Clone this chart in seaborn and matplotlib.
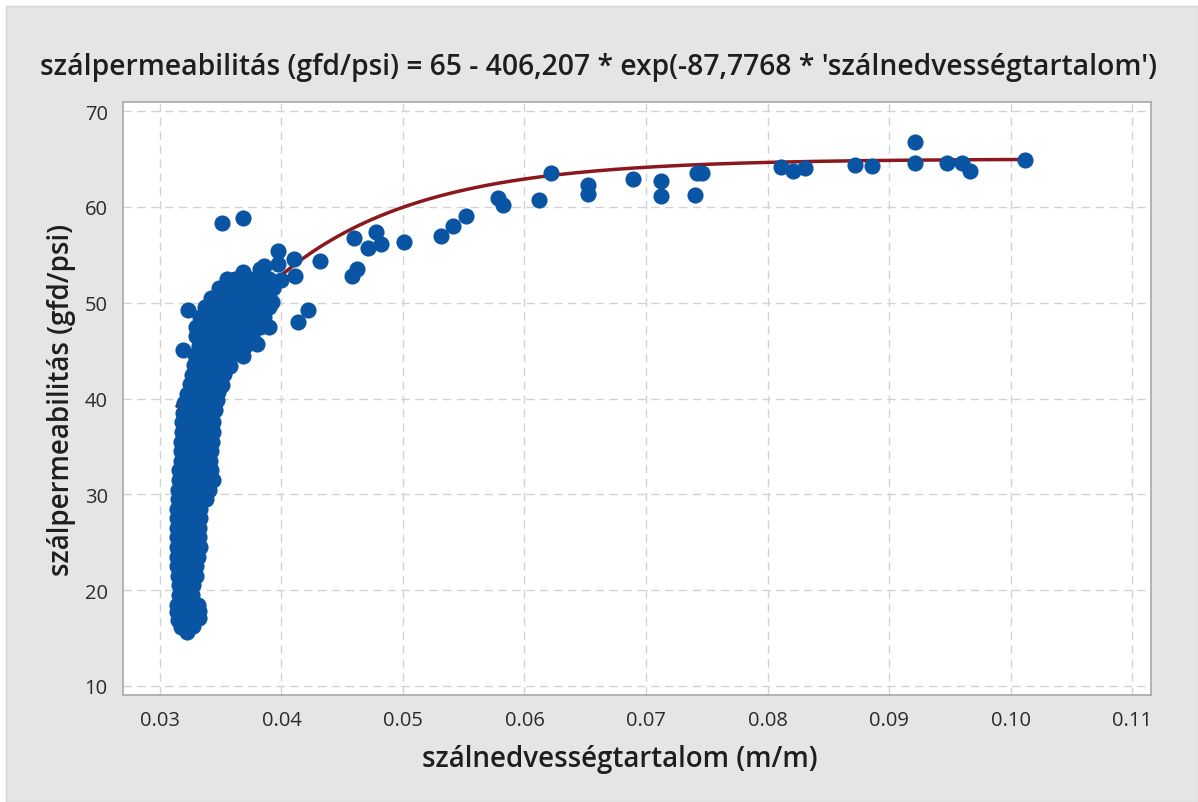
import numpy as np
import pandas as pd
import matplotlib
matplotlib.use("Agg")
import matplotlib.pyplot as plt
from matplotlib.patches import Rectangle
import seaborn as sns

# Fitted model: permeability = A - B * exp(C * moisture)
fit_a = 65.0
fit_b = 406.207
fit_c = -87.7768

# Dense group of low-moisture samples (moisture m/m, permeability gfd/psi)
cluster_points = [
    (0.0322, 15.6), (0.0317, 16.2), (0.0327, 16.3),
    (0.0315, 16.9), (0.0321, 16.9), (0.0328, 16.9), (0.0332, 17.1),
    (0.0314, 17.7), (0.0320, 17.7), (0.0326, 17.7), (0.0332, 17.8),
    (0.0314, 18.5), (0.0320, 18.5), (0.0326, 18.5), (0.0331, 18.5),
    (0.0316, 19.5), (0.0322, 19.5), (0.0326, 19.5),
    (0.0316, 20.5), (0.0322, 20.5), (0.0327, 20.5),
    (0.0315, 21.5), (0.0321, 21.5), (0.0327, 21.5), (0.0330, 21.5),
    (0.0314, 22.5), (0.0320, 22.5), (0.0326, 22.5), (0.0330, 22.5),
    (0.0314, 23.5), (0.0320, 23.5), (0.0326, 23.5), (0.0331, 23.5),
    (0.0314, 24.5), (0.0320, 24.5), (0.0326, 24.5), (0.0333, 24.5),
    (0.0314, 25.5), (0.0320, 25.5), (0.0326, 25.5), (0.0332, 25.5),
    (0.0314, 26.5), (0.0320, 26.5), (0.0326, 26.5), (0.0332, 26.5),
    (0.0314, 27.5), (0.0320, 27.5), (0.0327, 27.5), (0.0333, 27.5),
    (0.0314, 28.5), (0.0321, 28.5), (0.0327, 28.5), (0.0333, 28.5),
    (0.0315, 29.5), (0.0321, 29.5), (0.0328, 29.5), (0.0334, 29.5), (0.0338, 29.5),
    (0.0315, 30.5), (0.0322, 30.5), (0.0328, 30.5), (0.0335, 30.5), (0.0340, 30.5),
    (0.0316, 31.5), (0.0322, 31.5), (0.0329, 31.5), (0.0336, 31.5), (0.0344, 31.5),
    (0.0316, 32.5), (0.0322, 32.5), (0.0329, 32.5), (0.0336, 32.5), (0.0342, 32.5),
    (0.0317, 33.5), (0.0323, 33.5), (0.0330, 33.5), (0.0336, 33.5), (0.0341, 33.5),
    (0.0317, 34.5), (0.0323, 34.5), (0.0330, 34.5), (0.0337, 34.5), (0.0342, 34.5),
    (0.0317, 35.5), (0.0324, 35.5), (0.0331, 35.5), (0.0338, 35.5), (0.0343, 35.5),
    (0.0318, 36.5), (0.0324, 36.5), (0.0331, 36.5), (0.0338, 36.5), (0.0344, 36.5),
    (0.0318, 37.5), (0.0325, 37.5), (0.0332, 37.5), (0.0339, 37.5), (0.0344, 37.5),
    (0.0319, 38.5), (0.0326, 38.5), (0.0333, 38.5), (0.0340, 38.5), (0.0345, 38.8),
    (0.0320, 39.5), (0.0327, 39.5), (0.0334, 39.5), (0.0341, 39.5), (0.0347, 39.8),
    (0.0322, 40.5), (0.0329, 40.5), (0.0336, 40.5), (0.0343, 40.5), (0.0348, 40.7),
    (0.0325, 41.5), (0.0332, 41.5), (0.0339, 41.5), (0.0346, 41.5), (0.0351, 41.4),
    (0.0326, 42.5), (0.0333, 42.5), (0.0340, 42.5), (0.0347, 42.5), (0.0353, 42.6),
    (0.0328, 43.5), (0.0335, 43.5), (0.0342, 43.5), (0.0350, 43.5), (0.0358, 43.4),
    (0.0329, 44.5), (0.0336, 44.5), (0.0343, 44.5), (0.0350, 44.5), (0.0357, 44.4),
    (0.0363, 44.8), (0.0368, 44.4),
    (0.0319, 45.1),
    (0.0332, 45.5), (0.0339, 45.5), (0.0346, 45.5), (0.0353, 45.5), (0.0361, 45.5),
    (0.0370, 45.5), (0.0380, 45.7),
    (0.0330, 46.5), (0.0337, 46.5), (0.0344, 46.5), (0.0352, 46.5), (0.0360, 46.5),
    (0.0368, 46.5), (0.0376, 46.5),
    (0.0330, 47.5), (0.0337, 47.5), (0.0344, 47.5), (0.0351, 47.5), (0.0358, 47.5),
    (0.0366, 47.5), (0.0374, 47.5), (0.0382, 47.5), (0.0390, 47.5),
    (0.0334, 48.0), (0.0348, 48.0), (0.0362, 48.0), (0.0378, 48.0), (0.0386, 47.9),
    (0.0333, 48.5), (0.0340, 48.5), (0.0347, 48.5), (0.0354, 48.5), (0.0362, 48.5),
    (0.0370, 48.5), (0.0378, 48.5), (0.0386, 48.5),
    (0.0323, 49.2), (0.0338, 49.2), (0.0355, 49.0), (0.0370, 49.0), (0.0384, 49.0),
    (0.0337, 49.5), (0.0344, 49.5), (0.0351, 49.5), (0.0359, 49.5), (0.0366, 49.5),
    (0.0374, 49.5), (0.0382, 49.5), (0.0390, 49.5),
    (0.0346, 50.0), (0.0362, 50.0), (0.0378, 50.0), (0.0392, 50.1),
    (0.0342, 50.5), (0.0350, 50.5), (0.0358, 50.5), (0.0366, 50.5), (0.0373, 50.5),
    (0.0381, 50.5), (0.0389, 50.5),
    (0.0353, 51.0), (0.0368, 51.0), (0.0384, 51.0),
    (0.0349, 51.5), (0.0356, 51.5), (0.0363, 51.5), (0.0370, 51.5), (0.0378, 51.5),
    (0.0386, 51.5), (0.0393, 51.5),
    (0.0355, 52.5), (0.0362, 52.5), (0.0374, 52.5), (0.0382, 52.5), (0.0390, 52.5),
    (0.0368, 53.2), (0.0382, 53.5), (0.0386, 53.8),
    (0.0351, 58.3), (0.0368, 58.8),
]

# Transition region samples
mid_points = [
    (0.0397, 55.4), (0.0397, 54.0), (0.0410, 54.6), (0.0400, 52.4), (0.0411, 52.8),
    (0.0432, 54.4), (0.0460, 56.8), (0.0458, 52.8), (0.0462, 53.5), (0.0471, 55.7),
    (0.0478, 57.4), (0.0482, 56.1), (0.0414, 48.0), (0.0422, 49.2),
]

# High-moisture plateau samples
plateau_points = [
    (0.0501, 56.3), (0.0531, 57.0), (0.0541, 58.0), (0.0552, 59.0), (0.0578, 60.9),
    (0.0582, 60.2), (0.0612, 60.7), (0.0622, 63.5), (0.0652, 62.3), (0.0652, 61.3),
    (0.0689, 62.9), (0.0712, 62.7), (0.0712, 61.1), (0.0740, 61.2), (0.0742, 63.5),
    (0.0746, 63.5), (0.0811, 64.2), (0.0821, 63.7), (0.0831, 64.1), (0.0872, 64.4),
    (0.0886, 64.3), (0.0921, 66.8), (0.0921, 64.6), (0.0948, 64.6), (0.0960, 64.6),
    (0.0967, 63.7), (0.1012, 64.9),
]

x_ticks = [0.03, 0.04, 0.05, 0.06, 0.07, 0.08, 0.09, 0.10, 0.11]
y_ticks = [10, 20, 30, 40, 50, 60, 70]

title_text = "szálpermeabilitás (gfd/psi) = 65 - 406,207 * exp(-87,7768 * 'szálnedvességtartalom')"
x_label = "szálnedvességtartalom (m/m)"
y_label = "szálpermeabilitás (gfd/psi)"

df = pd.DataFrame(cluster_points + mid_points + plateau_points,
                  columns=["moisture", "permeability"])

x_fit = np.linspace(df["moisture"].min(), df["moisture"].max(), 400)
fit_df = pd.DataFrame({"moisture": x_fit,
                       "permeability": fit_a - fit_b * np.exp(fit_c * x_fit)})

sns.set_theme(style="white")
plt.rcParams["font.family"] = ["Open Sans", "DejaVu Sans"]

W, H = 1198, 803
fig = plt.figure(figsize=(W / 100, H / 100), dpi=100)
fig.patch.set_facecolor("white")
fig.patches.append(Rectangle((6 / W, 0), 1 - 6 / W, 1 - 7 / H, transform=fig.transFigure,
                             facecolor="#e5e5e5", edgecolor="#d4d4d4", linewidth=1, zorder=-10))

ax = fig.add_axes([123 / W, 1 - 696 / H, (1151 - 123) / W, (696 - 103) / H])
ax.set_facecolor("white")

sns.lineplot(data=fit_df, x="moisture", y="permeability", ax=ax,
             color="#8a181c", linewidth=2.5, zorder=2)
sns.scatterplot(data=df, x="moisture", y="permeability", ax=ax,
                color="#0a54a4", s=135, linewidth=0, marker="o", zorder=3)

ax.set_xlim(0.02696, 0.11156)
ax.set_ylim(9.06, 70.94)
ax.set_xticks(x_ticks)
ax.set_xticklabels([f"{t:.2f}" for t in x_ticks])
ax.set_yticks(y_ticks)
ax.set_yticklabels([str(t) for t in y_ticks])

ax.grid(True, color="#d2d2d2", linestyle=(0, (6, 4)), linewidth=1.0)
ax.set_axisbelow(True)
for side in ["left", "bottom", "top", "right"]:
    ax.spines[side].set_visible(True)
    ax.spines[side].set_color("#a8a8a8")
    ax.spines[side].set_linewidth(1.2)

ax.tick_params(axis="both", which="major", direction="out", length=5, width=1,
               color="#8a8a8a", labelsize=14.5, labelcolor="#2b2b2b", pad=6)

ax.set_xlabel(x_label, fontsize=20, fontweight="semibold", color="#1e1e1e")
ax.xaxis.set_label_coords(0.4835, -0.083)
ax.set_ylabel(y_label, fontsize=20, fontweight="semibold", color="#1e1e1e", labelpad=6)
fig.text(0.5, 1 - 68 / H, title_text, ha="center", va="center",
         fontsize=20.3, fontweight="semibold", color="#1e1e1e")

fig.savefig("out.png", dpi=100, facecolor=fig.get_facecolor())
